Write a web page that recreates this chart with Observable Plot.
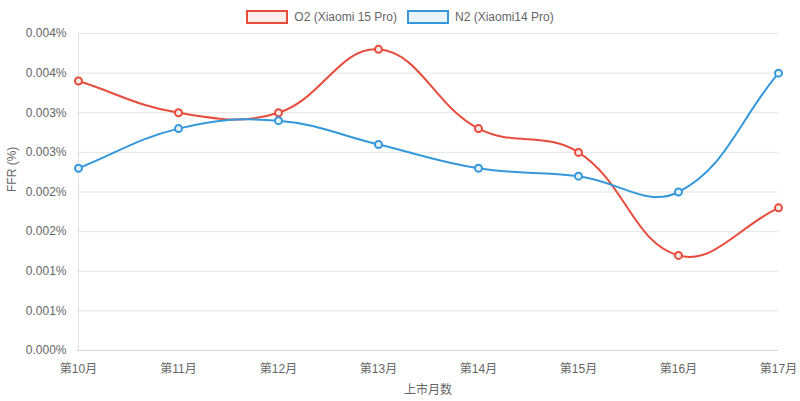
<!DOCTYPE html>
<html>
<head>
<meta charset="utf-8">
<script src="https://cdn.jsdelivr.net/npm/d3@7"></script>
<script src="https://cdn.jsdelivr.net/npm/@observablehq/plot@0.6"></script>
<style>
  html, body { margin: 0; padding: 0; background: #fff; }
  body { width: 800px; height: 401px; overflow: hidden; font-family: "Liberation Sans", Arial, "Noto Sans CJK SC", sans-serif; }
  #legend { height: 26px; display: flex; justify-content: center; align-items: flex-start; padding-top: 10px; box-sizing: border-box; font-size: 12px; color: #666; }
  .item { display: flex; align-items: center; margin: 0 5px; height: 14px; }
  .box { width: 42px; height: 14px; box-sizing: border-box; border: 2px solid; margin-right: 6px; }
  #chart svg { display: block; }
</style>
</head>
<body>
<div id="legend"></div>
<div id="chart"></div>
<script>
const months = ["第10月", "第11月", "第12月", "第13月", "第14月", "第15月", "第16月", "第17月"];
const seriesNames = ["O2 (Xiaomi 15 Pro)", "N2 (Xiaomi14 Pro)"];
const o2Values = [0.0034, 0.0030, 0.0030, 0.0038, 0.0028, 0.0025, 0.0012, 0.0018];
const n2Values = [0.0023, 0.0028, 0.0029, 0.0026, 0.0023, 0.0022, 0.0020, 0.0035];
const yTicks = [0, 0.0005, 0.001, 0.0015, 0.002, 0.0025, 0.003, 0.0035, 0.004];
const colors = ["#e74c3c", "#3498db"];
const fills = ["rgba(231,76,60,0.1)", "rgba(52,152,219,0.1)"];

const data = [];
[o2Values, n2Values].forEach((vals, s) => {
  vals.forEach((v, i) => data.push({ month: months[i], value: v, series: seriesNames[s] }));
});

// Chart.js-like bezier spline (tension 0.4)
function chartCurve(context) {
  const t = 0.4;
  let pts = [];
  return {
    areaStart() {}, areaEnd() {},
    lineStart() { pts = []; },
    point(x, y) { pts.push([+x, +y]); },
    lineEnd() {
      const n = pts.length;
      if (!n) return;
      const cps = pts.map((cur, i) => {
        const prev = pts[i - 1] || cur, next = pts[i + 1] || cur;
        const d01 = Math.hypot(cur[0] - prev[0], cur[1] - prev[1]);
        const d12 = Math.hypot(next[0] - cur[0], next[1] - cur[1]);
        let s01 = d01 / (d01 + d12), s12 = d12 / (d01 + d12);
        if (isNaN(s01)) s01 = 0; if (isNaN(s12)) s12 = 0;
        const fa = t * s01, fb = t * s12;
        return {
          p: [cur[0] - fa * (next[0] - prev[0]), cur[1] - fa * (next[1] - prev[1])],
          n: [cur[0] + fb * (next[0] - prev[0]), cur[1] + fb * (next[1] - prev[1])]
        };
      });
      context.moveTo(pts[0][0], pts[0][1]);
      for (let i = 1; i < n; i++) {
        context.bezierCurveTo(cps[i - 1].n[0], cps[i - 1].n[1], cps[i].p[0], cps[i].p[1], pts[i][0], pts[i][1]);
      }
    }
  };
}

const legend = document.getElementById("legend");
seriesNames.forEach((name, i) => {
  const it = document.createElement("div");
  it.className = "item";
  it.innerHTML = `<div class="box" style="border-color:${colors[i]};background:${fills[i]}"></div><span>${name}</span>`;
  legend.appendChild(it);
});

const fmt = d => (Math.round(d * 1000) / 1000).toFixed(3) + "%";

const chart = Plot.plot({
  width: 800,
  height: 375,
  marginTop: 7,
  marginBottom: 51,
  marginLeft: 77,
  marginRight: 22,
  style: { fontFamily: '"Liberation Sans", Arial, "Noto Sans CJK SC", sans-serif', fontSize: "12px", color: "#666", background: "#fff" },
  x: { type: "point", domain: months, padding: 0, label: null },
  y: { domain: [0, 0.004], ticks: yTicks, label: null },
  color: { domain: seriesNames, range: colors },
  marks: [
    Plot.gridY(yTicks, { stroke: "#e5e5e5", strokeOpacity: 1 }),
    Plot.ruleX([months[0]], { stroke: "#e0e0e0" }),
    Plot.ruleY([0], { stroke: "#d4d4d4" }),
    Plot.axisY(yTicks, { tickSize: 0, tickPadding: 11, tickFormat: fmt, fill: "#666", fontSize: 12, label: null }),
    Plot.axisX({ tickSize: 0, tickPadding: 14, fill: "#666", fontSize: 12, label: null }),
    Plot.text(["FFR (%)"], { frameAnchor: "left", dx: -65, rotate: -90, fill: "#666", fontSize: 12 }),
    Plot.text(["上市月数"], { frameAnchor: "bottom", dy: 43, fill: "#666", fontSize: 12 }),
    Plot.line(data, { x: "month", y: "value", z: "series", stroke: "series", strokeWidth: 2, curve: chartCurve }),
    Plot.dot(data, { x: "month", y: "value", stroke: "series", strokeWidth: 2, r: 3.5, fill: d => d.series === seriesNames[0] ? "#fde9e7" : "#e6f2fa" })
  ]
});
document.getElementById("chart").appendChild(chart);
</script>
</body>
</html>
